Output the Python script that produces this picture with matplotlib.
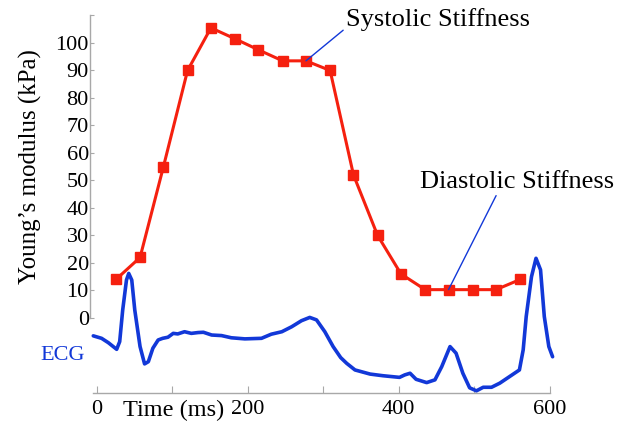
"""
Young's modulus of the myocardium over one heart cycle, with the ECG trace underneath.
"""

import matplotlib
matplotlib.use("Agg")
import matplotlib.pyplot as plt

# Stiffness samples (time in ms, modulus in kPa)
stiff_t = [25, 57, 88, 120, 151, 183, 214, 246, 277, 309, 340, 372, 403, 435, 466, 498, 529, 561]
stiff_kpa = [14, 22, 55, 90, 105.5, 101.5, 97.5, 93.5, 93.5, 90, 52, 30, 16, 10.3, 10.3, 10.3, 10.3, 14]

# ECG trace, drawn on the same axes below zero (arbitrary units)
ecg_t = [-5, 6, 15, 26, 30, 34, 39, 42, 46, 50, 57, 63, 68, 74, 81, 87, 94, 101, 107,
         116, 125, 134, 141, 152, 165, 178, 196, 218, 231, 245, 258, 271, 282, 291,
         302, 313, 323, 331, 342, 362, 379, 401, 408, 415, 423, 437, 448, 457, 468,
         476, 485, 494, 503, 512, 523, 534, 547, 560, 565, 569, 576, 582, 588, 593,
         599, 604]
ecg_val = [-6.5, -7.4, -9, -11.4, -8.6, 2.9, 13.8, 16.2, 13.8, 2.9, -10.4, -16.7, -15.9,
           -11, -8, -7.4, -7, -5.6, -5.8, -5, -5.6, -5.3, -5.2, -6.2, -6.4, -7.2, -7.6,
           -7.4, -5.9, -5, -3.2, -1, 0.2, -0.7, -5, -10.4, -14.4, -16.5, -18.9, -20.4,
           -21, -21.6, -20.7, -20.1, -22.3, -23.5, -22.5, -17.7, -10.4, -12.8, -20.1,
           -25.4, -26.5, -25.2, -25.2, -23.7, -21.3, -18.9, -11.6, 0.5, 15, 21.7, 17.5,
           0.5, -10.4, -14.1]

x_ticks = [0, 100, 200, 300, 400, 500, 600]
x_labels = ["0", "", "200", "", "400", "", "600"]
y_ticks = list(range(0, 111, 10))
y_labels = [str(v) for v in range(0, 101, 10)] + [""]

RED = "#f5200f"
BLUE = "#1238d8"
GREY = "#a8a8a8"


def main():
    plt.rcParams["font.family"] = ["Liberation Serif", "DejaVu Serif"]

    fig = plt.figure(figsize=(6.26, 4.24), dpi=100)
    ax = fig.add_axes([0.143, 0.073, 0.753, 0.897])

    ax.plot(ecg_t, ecg_val, color=BLUE, lw=2.6, solid_capstyle="round",
            solid_joinstyle="round")
    ax.plot(stiff_t, stiff_kpa, color=RED, lw=2.2, marker="s", markersize=6.5)

    ax.set_xlim(-10, 615)
    ax.set_ylim(-27.3, 111)

    for side in ["top", "right"]:
        ax.spines[side].set_visible(False)
    ax.spines["left"].set_bounds(0, 110)
    ax.spines["bottom"].set_bounds(-5, 600)
    for side in ["left", "bottom"]:
        ax.spines[side].set_color(GREY)
        ax.spines[side].set_linewidth(1.0)

    ax.set_xticks(x_ticks, x_labels)
    ax.set_yticks(y_ticks, y_labels)
    ax.tick_params(axis="both", direction="in", color=GREY, labelsize=16)
    ax.tick_params(axis="x", length=5, pad=5)
    ax.tick_params(axis="y", length=3, pad=0.5)

    ax.set_ylabel("Young\u2019s modulus (kPa)", fontsize=18)
    ax.yaxis.set_label_coords(-0.1, 0.595)
    ax.text(102, -33.5, "Time (ms)", fontsize=17.5, ha="center", va="center",
            clip_on=False)
    ax.text(-16, -13.5, "ECG", fontsize=16, color=BLUE, ha="right", va="center")

    ax.annotate("Systolic Stiffness", xy=(stiff_t[8], stiff_kpa[8]), xytext=(330, 108.4),
                fontsize=19, ha="left", va="center", annotation_clip=False,
                arrowprops=dict(arrowstyle="-", color=BLUE, lw=1.0,
                                shrinkA=0, shrinkB=0, relpos=(0, 0.15)))
    ax.annotate("Diastolic Stiffness", xy=(stiff_t[14], stiff_kpa[14]), xytext=(428, 49.5),
                fontsize=19, ha="left", va="center", annotation_clip=False,
                arrowprops=dict(arrowstyle="-", color=BLUE, lw=1.0,
                                shrinkA=0, shrinkB=0, relpos=(0.4, 0.0)))

    fig.savefig("out.png", dpi=100)


if __name__ == "__main__":
    main()
